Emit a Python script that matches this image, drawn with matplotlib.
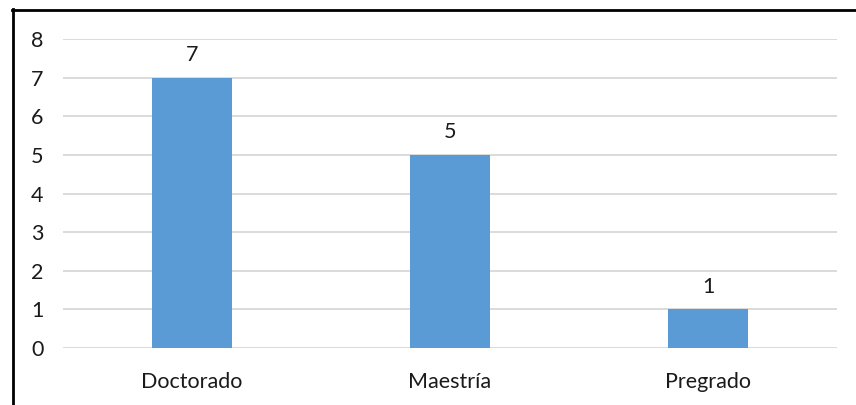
import matplotlib
matplotlib.use("Agg")
import matplotlib.pyplot as plt
from matplotlib.lines import Line2D

categories = ["Doctorado", "Maestría", "Pregrado"]
counts = [7, 5, 1]
yticks = [0, 1, 2, 3, 4, 5, 6, 7, 8]

W, H = 856, 405
plt.rcParams['font.family'] = ['Lato', 'DejaVu Sans']
fig = plt.figure(figsize=(W/100, H/100), dpi=100)
fig.patch.set_facecolor("white")

# axes placed in pixel coords: x 63..837, y 39..348 (from top)
ax = fig.add_axes([63/W, 1-348/H, (837-63)/W, (348-39)/H])
x = range(len(categories))
bars = ax.bar(x, counts, width=0.31, color="#5B9BD5", zorder=3)
ax.set_xlim(-0.5, len(categories)-0.5)
ax.set_ylim(0, 8)
ax.set_yticks(yticks)
ax.set_xticks(list(x))
ax.set_xticklabels(categories)
ax.grid(axis="y", color="#d4d4d4", linewidth=1.2, zorder=0)
for s in ax.spines.values():
    s.set_visible(False)
ax.tick_params(axis="both", length=0, labelsize=15.5, colors="#1a1a1a")
ax.tick_params(axis="y", pad=14)
ax.tick_params(axis="x", pad=17)
for b, v in zip(bars, counts):
    ax.annotate(str(v), (b.get_x()+b.get_width()/2, v), xytext=(0, 9),
                textcoords="offset points", ha="center", va="bottom",
                fontsize=15.5, color="#1a1a1a")

# outer frame (left and top only visible in the crop)
fig.add_artist(Line2D([12.5/W, 12.5/W], [0, 1-9/H], color="black", linewidth=2, transform=fig.transFigure))
fig.add_artist(Line2D([12/W, 1], [1-9.5/H, 1-9.5/H], color="black", linewidth=2, transform=fig.transFigure))

fig.savefig("out.png", dpi=100, facecolor="white")
